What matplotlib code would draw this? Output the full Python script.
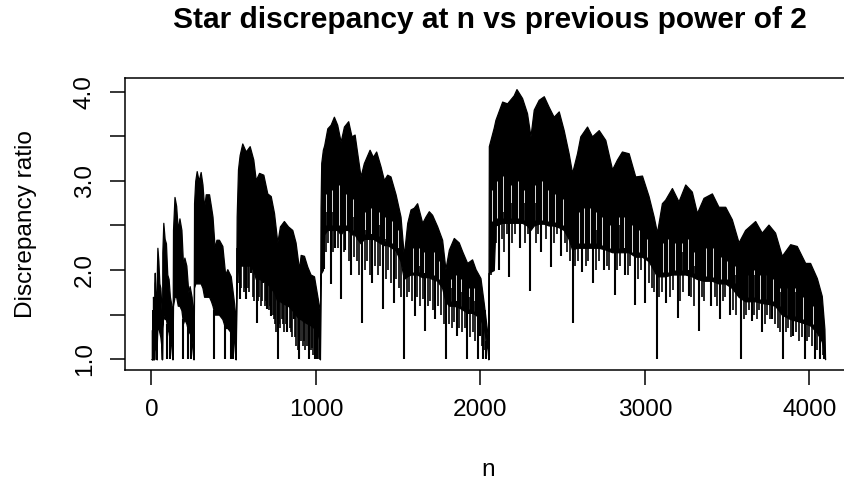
import numpy as np
import matplotlib
matplotlib.use("Agg")
import matplotlib.pyplot as plt

plt.rcParams['font.family'] = ['Liberation Sans', 'DejaVu Sans']

# envelope of the discrepancy-ratio trace
# (n, top of the trace, bottom of the solid black body)
env_n = [1, 2, 3, 4, 5, 7, 8, 9, 12, 15, 16, 17, 20, 24, 28, 31, 32, 33, 36, 42,
         48, 54, 60, 63, 64, 66, 72, 80, 88, 96, 104, 112, 120, 127, 128, 131, 140,
         150, 160, 170, 182, 192, 200, 212, 224, 232, 244, 255, 256, 259, 266, 275,
         287, 299, 310, 320, 330, 350, 362, 371, 384, 395, 410, 431, 448, 461, 482,
         502, 511, 512, 518, 526, 536, 552, 573, 597, 619, 634, 654, 680, 704, 725,
         745, 765, 781, 805, 830, 856, 876, 897, 907, 927, 947, 967, 988, 1008, 1022,
         1024, 1028, 1032, 1042, 1050, 1069, 1089, 1109, 1129, 1150, 1170, 1196, 1216,
         1235, 1251, 1271, 1291, 1326, 1346, 1366, 1393, 1413, 1433, 1453, 1484, 1514,
         1534, 1555, 1575, 1595, 1615, 1646, 1666, 1686, 1706, 1737, 1767, 1787, 1808,
         1838, 1868, 1889, 1919, 1949, 1970, 2000, 2020, 2044, 2048, 2051, 2081, 2091,
         2132, 2162, 2202, 2219, 2253, 2283, 2304, 2324, 2354, 2385, 2415, 2445, 2476,
         2506, 2536, 2557, 2587, 2607, 2648, 2678, 2719, 2759, 2800, 2830, 2860, 2901,
         2941, 2982, 3022, 3053, 3073, 3103, 3123, 3164, 3204, 3245, 3285, 3316, 3356,
         3407, 3447, 3488, 3528, 3569, 3609, 3670, 3710, 3751, 3791, 3832, 3883, 3923,
         3974, 4004, 4045, 4075, 4091, 4095]
env_top = [1.0, 1.0, 1.33, 1.0, 1.55, 1.45, 1.0, 1.7, 1.65, 1.45, 1.0, 1.85, 1.97, 1.8,
           1.65, 1.45, 1.0, 2.0, 2.25, 2.1, 1.85, 1.8, 1.6, 1.45, 1.0, 2.2, 2.53, 2.35,
           2.3, 1.95, 1.9, 1.7, 1.62, 1.4, 1.0, 2.45, 2.82, 2.72, 2.45, 2.58, 2.45, 2.05,
           2.14, 2.05, 1.75, 1.82, 1.7, 1.45, 1.0, 2.75, 3.0, 3.11, 3.0, 3.1, 2.96, 2.7,
           2.85, 2.85, 2.71, 2.6, 2.25, 2.34, 2.34, 2.27, 1.95, 2.01, 1.93, 1.63, 1.45,
           1.0, 2.6, 3.13, 3.29, 3.42, 3.33, 3.39, 3.24, 3.01, 3.09, 3.07, 2.86, 2.83,
           2.64, 2.31, 2.49, 2.55, 2.49, 2.45, 2.31, 2.01, 2.17, 2.16, 2.04, 1.95, 1.93,
           1.71, 1.56, 1.0, 2.7, 3.2, 3.35, 3.4, 3.59, 3.63, 3.72, 3.63, 3.44, 3.61, 3.67,
           3.5, 3.52, 3.31, 3.05, 3.2, 3.35, 3.27, 3.33, 3.16, 3.01, 3.07, 3.05, 2.85,
           2.6, 2.16, 2.53, 2.68, 2.7, 2.75, 2.53, 2.6, 2.66, 2.62, 2.49, 2.34, 2.01,
           2.23, 2.36, 2.31, 2.21, 2.08, 2.12, 2.01, 1.91, 1.63, 1.26, 1.0, 3.39, 3.6,
           3.685, 3.89, 3.87, 3.96, 4.03, 3.93, 3.76, 3.5, 3.8, 3.91, 3.95, 3.83, 3.72,
           3.78, 3.57, 3.31, 3.09, 3.31, 3.5, 3.61, 3.5, 3.57, 3.46, 3.13, 3.24, 3.33,
           3.31, 3.05, 3.06, 2.83, 2.6, 2.42, 2.75, 2.79, 2.92, 2.77, 2.96, 2.88, 2.64,
           2.81, 2.86, 2.71, 2.71, 2.57, 2.31, 2.45, 2.55, 2.42, 2.51, 2.42, 2.16, 2.29,
           2.27, 2.08, 2.08, 1.91, 1.71, 1.34, 1.0]
env_low = [1.0, 1.0, 1.0, 1.0, 1.0, 1.0, 1.0, 1.0, 1.0, 1.0, 1.0, 1.1, 1.2, 1.2, 1.1,
           1.0, 1.0, 1.2, 1.35, 1.35, 1.3, 1.25, 1.15, 1.0, 1.0, 1.35, 1.5, 1.45, 1.45,
           1.35, 1.3, 1.2, 1.15, 1.0, 1.0, 1.6, 1.7, 1.7, 1.6, 1.6, 1.55, 1.4, 1.45, 1.4,
           1.3, 1.3, 1.2, 1.0, 1.0, 1.8, 1.85, 1.85, 1.85, 1.85, 1.8, 1.7, 1.7, 1.7, 1.65,
           1.6, 1.5, 1.5, 1.5, 1.45, 1.35, 1.35, 1.3, 1.2, 1.0, 1.0, 1.9, 2.0, 2.05, 2.05,
           2.05, 2.05, 2.0, 1.9, 1.9, 1.88, 1.85, 1.8, 1.75, 1.65, 1.65, 1.62, 1.6, 1.55,
           1.5, 1.45, 1.45, 1.42, 1.4, 1.38, 1.35, 1.3, 1.2, 1.0, 1.95, 1.97, 2.0, 2.4,
           2.45, 2.45, 2.45, 2.45, 2.4, 2.45, 2.45, 2.4, 2.4, 2.35, 2.3, 2.35, 2.35, 2.35,
           2.33, 2.3, 2.28, 2.28, 2.26, 2.22, 2.1, 1.9, 1.93, 1.95, 1.95, 1.95, 1.92,
           1.92, 1.92, 1.9, 1.88, 1.8, 1.65, 1.6, 1.6, 1.58, 1.56, 1.52, 1.52, 1.5, 1.45,
           1.35, 1.1, 1.0, 1.97, 2.0, 2.5, 2.53, 2.53, 2.53, 2.53, 2.53, 2.5, 2.45, 2.5,
           2.52, 2.52, 2.5, 2.5, 2.48, 2.45, 2.35, 2.23, 2.25, 2.25, 2.25, 2.25, 2.25,
           2.23, 2.2, 2.2, 2.2, 2.2, 2.15, 2.15, 2.1, 2.0, 1.93, 1.93, 1.93, 1.95, 1.95,
           1.95, 1.93, 1.9, 1.88, 1.88, 1.85, 1.85, 1.8, 1.7, 1.65, 1.65, 1.63, 1.62, 1.6,
           1.5, 1.45, 1.43, 1.4, 1.38, 1.3, 1.2, 1.05, 1.0]

# deep downward spikes below the body: n, lowest value, where it meets the body
spike_n = [95, 111, 192, 224, 240, 382, 447, 482, 498, 536, 577, 607, 640, 680, 704,
           729, 768, 825, 865, 897, 957, 992, 1008, 1051, 1089, 1118, 1152, 1179, 1216,
           1280, 1341, 1408, 1472, 1536, 1600, 1664, 1726, 1792, 1858, 1920, 1985, 2000,
           2016, 2036, 2110, 2176, 2240, 2304, 2368, 2426, 2490, 2560, 2618, 2682, 2750,
           2816, 2880, 2940, 3002, 3072, 3128, 3198, 3266, 3330, 3400, 3458, 3518, 3584,
           3650, 3711, 3775, 3840, 3903, 3970, 4035, 4065, 4091]
spike_lo = [1.0, 1.0, 1.0, 1.0, 1.0, 1.0, 1.0, 1.0, 1.0, 1.67, 1.67, 1.97, 1.41, 1.86,
            1.56, 1.48, 1.0, 1.3, 1.45, 1.0, 1.0, 1.0, 1.0, 2.01, 1.84, 2.25, 1.67, 2.23,
            1.95, 1.41, 1.86, 1.56, 1.63, 1.0, 1.48, 1.32, 1.45, 1.0, 1.26, 1.0, 1.0,
            1.26, 1.0, 1.0, 2.0, 1.92, 2.25, 1.77, 2.2, 2.03, 2.16, 1.41, 1.98, 1.86, 2.0,
            1.72, 1.95, 1.61, 1.63, 1.0, 1.63, 1.46, 1.71, 1.32, 1.6, 1.45, 1.5, 1.0,
            1.43, 1.3, 1.45, 1.0, 1.26, 1.0, 1.0, 1.0, 1.0]
spike_hi = [1.4, 1.3, 1.45, 1.35, 1.3, 1.55, 1.4, 1.35, 1.3, 2.1, 2.1, 2.1, 1.95, 1.95,
            1.9, 1.85, 1.7, 1.65, 1.6, 1.5, 1.45, 1.4, 1.35, 2.45, 2.5, 2.5, 2.45, 2.5,
            2.45, 2.35, 2.4, 2.33, 2.3, 1.95, 2.0, 1.97, 1.93, 1.7, 1.65, 1.57, 1.5, 1.5,
            1.4, 1.2, 2.55, 2.55, 2.55, 2.5, 2.55, 2.55, 2.5, 2.3, 2.3, 2.3, 2.3, 2.25,
            2.25, 2.2, 2.15, 2.0, 2.0, 2.0, 2.0, 1.95, 1.93, 1.9, 1.85, 1.75, 1.7, 1.68,
            1.65, 1.55, 1.5, 1.45, 1.35, 1.25, 1.1]

# shorter spikes forming the ragged fringe under the body: n, lowest value
fringe_n = [520, 528, 544, 560, 568, 584, 592, 616, 624, 648, 656, 664, 672, 688, 696,
            712, 720, 736, 744, 752, 760, 776, 784, 792, 800, 808, 816, 840, 848, 856,
            872, 880, 888, 912, 920, 928, 936, 944, 968, 976, 984, 1000, 1016,
            1040, 1064, 1072, 1104, 1136, 1168, 1200, 1232, 1248, 1264, 1296, 1312, 1328,
            1360, 1376, 1392, 1424, 1440, 1456, 1488, 1504, 1520, 1552, 1568, 1584, 1616,
            1632, 1648, 1680, 1696, 1712, 1744, 1760, 1776, 1808, 1824, 1840, 1872, 1888,
            1904, 1936, 1952, 1968, 2008, 2028,
            2064, 2080, 2096, 2128, 2144, 2160, 2192, 2208, 2272, 2288, 2336, 2352, 2400,
            2448, 2464, 2512, 2528, 2544, 2576, 2592, 2640, 2656, 2704, 2720, 2768, 2784,
            2832, 2848, 2896, 2912, 2960, 2976, 3024, 3040, 3056, 3088, 3104, 3152, 3168,
            3216, 3232, 3280, 3296, 3344, 3360, 3424, 3440, 3472, 3488, 3536, 3552, 3600,
            3616, 3632, 3664, 3680, 3696, 3728, 3744, 3760, 3792, 3808, 3824, 3856, 3872,
            3888, 3920, 3936, 3952, 3984, 4000, 4016, 4048, 4080]
fringe_lo = [1.8, 1.85, 1.8, 1.75, 1.8, 1.8, 1.75, 1.7, 1.65, 1.65, 1.7, 1.6, 1.65, 1.6,
             1.65, 1.55, 1.6, 1.5, 1.45, 1.4, 1.3, 1.4, 1.35, 1.45, 1.4, 1.3, 1.4, 1.35,
             1.3, 1.25, 1.25, 1.15, 1.1, 1.2, 1.15, 1.2, 1.1, 1.15, 1.1, 1.12, 1.05, 1.05,
             1.0,
             2.1, 2.2, 2.3, 2.2, 2.25, 2.2, 2.1, 2.15, 2.1, 1.95, 2.0, 2.1, 1.95, 2.05,
             1.95, 2.05, 1.9, 2.0, 1.85, 1.9, 1.8, 1.7, 1.7, 1.75, 1.65, 1.7, 1.6, 1.68,
             1.6, 1.65, 1.55, 1.6, 1.5, 1.4, 1.4, 1.35, 1.42, 1.35, 1.3, 1.35, 1.25, 1.3,
             1.2, 1.15, 1.1,
             1.95, 2.2, 2.3, 2.35, 2.2, 2.4, 2.3, 2.4, 2.3, 2.4, 2.3, 2.4, 2.35, 2.3, 2.4,
             2.3, 2.2, 2.1, 2.05, 2.1, 2.05, 2.1, 2.0, 2.1, 2.05, 2.0, 2.0, 2.05, 1.95,
             2.05, 1.9, 2.0, 1.85, 1.8, 1.75, 1.7, 1.75, 1.7, 1.78, 1.65, 1.75, 1.7, 1.6,
             1.7, 1.65, 1.7, 1.6, 1.65, 1.7, 1.55, 1.5, 1.45, 1.5, 1.55, 1.5, 1.45, 1.55,
             1.4, 1.5, 1.45, 1.4, 1.35, 1.3, 1.3, 1.35, 1.25, 1.3, 1.2, 1.25, 1.2, 1.25,
             1.15, 1.1, 1.05]

# thin white gaps inside the body: n, bottom, top
gap_n = [1060, 1095, 1140, 1185, 1225, 1300, 1335, 1385, 1420, 1465, 1500,
         1590, 1625, 1655, 1720, 1750, 1820, 1850, 1880, 1930, 1960,
         2072, 2100, 2140, 2185, 2230, 2265, 2330, 2375, 2410, 2455, 2500,
         2600, 2630, 2665, 2700, 2740, 2790, 2845, 2870, 2920, 2965, 3010,
         3110, 3140, 3180, 3225, 3260, 3300, 3370, 3415, 3465, 3500, 3545,
         3625, 3660, 3700, 3735, 3780, 3820, 3865, 3915, 3960, 4020]
gap_lo = [2.5, 2.5, 2.5, 2.5, 2.45, 2.4, 2.4, 2.38, 2.33, 2.3, 2.25,
          1.98, 1.98, 1.97, 1.95, 1.9, 1.65, 1.63, 1.6, 1.56, 1.54,
          2.55, 2.58, 2.58, 2.58, 2.58, 2.56, 2.56, 2.56, 2.55, 2.54, 2.5,
          2.3, 2.3, 2.3, 2.3, 2.28, 2.25, 2.25, 2.25, 2.2, 2.2, 2.15,
          1.98, 1.98, 2.0, 2.0, 2.0, 1.97, 1.93, 1.92, 1.9, 1.9, 1.85,
          1.7, 1.7, 1.68, 1.67, 1.65, 1.6, 1.5, 1.48, 1.45, 1.4]
gap_hi = [2.85, 2.9, 2.95, 2.85, 2.8, 2.65, 2.7, 2.65, 2.6, 2.55, 2.45,
          2.25, 2.25, 2.2, 2.2, 2.1, 1.9, 1.95, 1.9, 1.8, 1.8,
          2.9, 3.0, 3.05, 2.95, 3.0, 2.9, 2.95, 3.0, 2.9, 2.85, 2.8,
          2.65, 2.7, 2.7, 2.65, 2.6, 2.5, 2.6, 2.6, 2.5, 2.45, 2.35,
          2.3, 2.35, 2.3, 2.3, 2.35, 2.2, 2.25, 2.25, 2.15, 2.1, 2.05,
          1.95, 2.0, 1.95, 1.95, 1.9, 1.8, 1.8, 1.8, 1.7, 1.6]

x_ticks = [0, 1000, 2000, 3000, 4000]
y_ticks = [1.0, 1.5, 2.0, 2.5, 3.0, 3.5, 4.0]
y_labels = ['1.0', '', '2.0', '', '3.0', '', '4.0']

W, H = 844, 491
fig = plt.figure(figsize=(W / 100, H / 100), dpi=100)
# plot region: the right edge of the box lies outside the picture
ax = fig.add_axes([124.7 / W, 1 - 370 / H, (852 - 124.7) / W, (370 - 78.3) / H])

ax.fill_between(env_n, env_low, env_top, color='black', linewidth=0.9)
ax.vlines(gap_n, gap_lo, gap_hi, color='white', linewidth=0.6)
ax.vlines(spike_n, spike_lo, spike_hi, color='black', linewidth=1.5)
ax.vlines(fringe_n, fringe_lo, np.array(fringe_lo) + 0.45, color='black', linewidth=1.2)

# R style limits: 4% padding on each side
xr = max(env_n) - min(env_n)
ax.set_xlim(min(env_n) - 0.04 * xr, max(env_n) + 0.04 * xr)
yr = max(env_top) - 1.0
ax.set_ylim(1.0 - 0.04 * yr, max(env_top) + 0.04 * yr)

ax.set_xticks(x_ticks)
ax.set_xticklabels([str(t) for t in x_ticks])
ax.set_yticks(y_ticks)
ax.set_yticklabels(y_labels, rotation=90, va='center')
ax.tick_params(direction='out', length=10.8, width=1.1, labelsize=17.6, pad=10,
               color='black')
for s in ax.spines.values():
    s.set_linewidth(1.1)

fig.text(490 / W, 1 - 20 / H, 'Star discrepancy at n vs previous power of 2',
         ha='center', va='center', fontsize=21.5, fontweight='bold')
fig.text(488 / W, 1 - 470 / H, 'n', ha='center', va='center', fontsize=17.6)
fig.text(26 / W, 1 - 224 / H, 'Discrepancy ratio', ha='center', va='center',
         rotation=90, fontsize=17.6)

fig.savefig('out.png', dpi=100)
